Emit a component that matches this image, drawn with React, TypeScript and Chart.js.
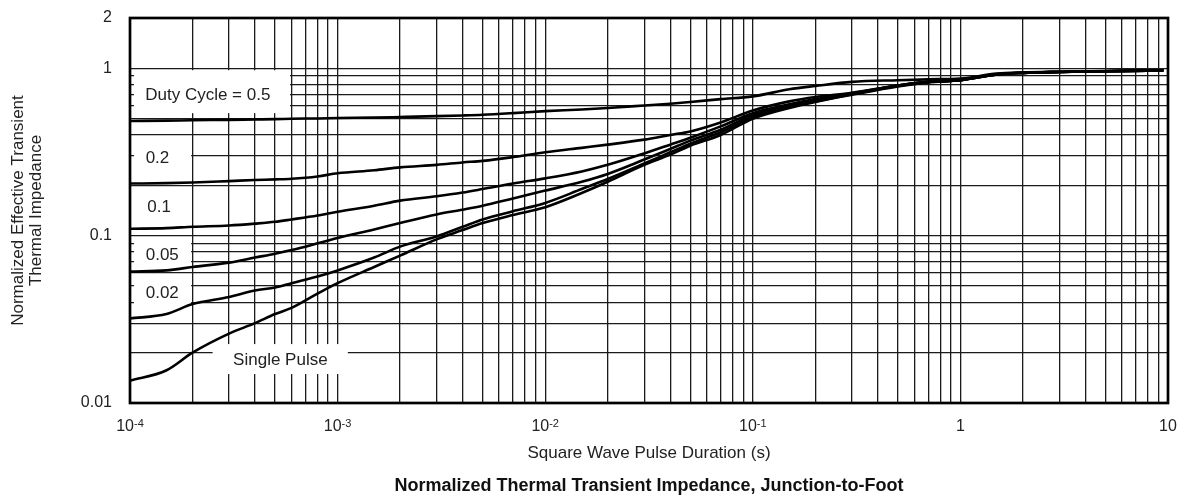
import React, { useEffect, useRef } from "react";
import { Chart, registerables } from "chart.js";

Chart.register(...registerables);

const FONT = '"Liberation Sans", Arial, Helvetica, sans-serif';

// Square wave pulse duration (s) at which the curves were read
const pulseDuration = [1e-4, 1.5e-4, 2e-4, 3e-4, 4e-4, 5e-4, 6e-4, 8e-4, 1e-3, 1.5e-3, 2e-3, 3e-3, 4e-3, 5e-3, 7e-3, 1e-2, 1.5e-2, 2e-2, 3e-2, 4e-2, 5e-2, 7e-2, 0.1, 0.15, 0.2, 0.3, 0.5, 0.7, 1, 1.5, 2, 3, 5, 9.5];

// Normalized effective transient thermal impedance per duty cycle
const duty05 = [0.485, 0.487, 0.49, 0.492, 0.495, 0.497, 0.5, 0.502, 0.505, 0.508, 0.512, 0.518, 0.523, 0.528, 0.54, 0.555, 0.568, 0.58, 0.6, 0.615, 0.63, 0.655, 0.68, 0.75, 0.785, 0.83, 0.85, 0.86, 0.87, 0.93, 0.945, 0.955, 0.965, 0.975];
const duty02 = [0.205, 0.206, 0.208, 0.212, 0.215, 0.217, 0.219, 0.226, 0.236, 0.246, 0.256, 0.265, 0.274, 0.28, 0.295, 0.315, 0.335, 0.35, 0.375, 0.4, 0.42, 0.475, 0.56, 0.635, 0.675, 0.715, 0.79, 0.83, 0.855, 0.925, 0.94, 0.952, 0.962, 0.973];
const duty01 = [0.11, 0.111, 0.113, 0.115, 0.118, 0.121, 0.125, 0.132, 0.139, 0.151, 0.162, 0.172, 0.181, 0.19, 0.205, 0.22, 0.242, 0.265, 0.31, 0.35, 0.385, 0.45, 0.54, 0.61, 0.655, 0.71, 0.79, 0.83, 0.85, 0.92, 0.94, 0.952, 0.962, 0.973];
const duty005 = [0.061, 0.062, 0.065, 0.069, 0.074, 0.078, 0.082, 0.09, 0.097, 0.109, 0.119, 0.134, 0.143, 0.151, 0.167, 0.186, 0.21, 0.234, 0.285, 0.33, 0.37, 0.43, 0.525, 0.6, 0.645, 0.705, 0.79, 0.83, 0.85, 0.92, 0.94, 0.952, 0.962, 0.973];
const duty002 = [0.032, 0.034, 0.039, 0.043, 0.047, 0.049, 0.052, 0.057, 0.062, 0.074, 0.086, 0.099, 0.113, 0.125, 0.14, 0.157, 0.19, 0.218, 0.27, 0.315, 0.355, 0.415, 0.51, 0.59, 0.635, 0.7, 0.785, 0.83, 0.85, 0.92, 0.94, 0.952, 0.962, 0.973];
const singlePulse = [0.0136, 0.0157, 0.02, 0.026, 0.03, 0.034, 0.037, 0.045, 0.052, 0.065, 0.076, 0.095, 0.108, 0.119, 0.133, 0.148, 0.18, 0.21, 0.265, 0.305, 0.345, 0.4, 0.5, 0.58, 0.63, 0.695, 0.78, 0.825, 0.85, 0.92, 0.94, 0.952, 0.962, 0.973];

const seriesNames = ["Duty Cycle = 0.5", "0.2", "0.1", "0.05", "0.02", "Single Pulse"];

// Axis ticks / grid
const xGridDecades = [1e-4, 1e-3, 1e-2, 1e-1, 1];
const yGridDecades = [0.01, 0.1, 1];
const gridMantissas = [1, 2, 3, 4, 5, 6, 7, 8, 9];
const xTickValues = [1e-4, 1e-3, 1e-2, 1e-1, 1, 10];
const xTickBase = ["10", "10", "10", "10", "1", "10"];
const xTickExp = ["-4", "-3", "-2", "-1", "", ""];
const yTickValues = [0.01, 0.1, 1, 2];
const yTickLabels = ["0.01", "0.1", "1", "2"];

// In-plot curve labels (data coordinates) and their white backing boxes
const curveLabelX = [2.37e-4, 1.356e-4, 1.38e-4, 1.43e-4, 1.43e-4, 5.3e-4];
const curveLabelY = [0.689, 0.291, 0.147, 0.076, 0.045, 0.0179];
const labelBoxX0 = [1.045e-4, 1.045e-4, 1.045e-4, 1.045e-4, 1.045e-4, 2.5e-4];
const labelBoxX1 = [5.9e-4, 1.97e-4, 1.97e-4, 1.97e-4, 1.97e-4, 1.12e-3];
const labelBoxYLow = [0.54, 0.235, 0.125, 0.065, 0.036, 0.0149];
const labelBoxYHigh = [0.975, 0.37, 0.18, 0.097, 0.054, 0.0225];

const xTitle = "Square Wave Pulse Duration (s)";
const yTitle = ["Normalized Effective Transient", "Thermal Impedance"];
const chartTitle = "Normalized Thermal Transient Impedance, Junction-to-Foot";

export default function App() {
  const ref = useRef<HTMLCanvasElement>(null);

  useEffect(() => {
    document.body.style.margin = "0";
    const series = [duty05, duty02, duty01, duty005, duty002, singlePulse];
    const xGrid: number[] = [];
    xGridDecades.forEach((d) => gridMantissas.forEach((m) => xGrid.push(d * m)));
    xGrid.push(10);
    const yGrid: number[] = [];
    yGridDecades.forEach((d) => gridMantissas.forEach((m) => { if (d * m <= 2.0001) yGrid.push(d * m); }));

    const decor = {
      id: "decor",
      beforeDatasetsDraw(chart: any) {
        const { ctx, scales } = chart;
        const x = scales.x, y = scales.y;
        ctx.save();
        ctx.fillStyle = "#ffffff";
        for (let i = 0; i < labelBoxX0.length; i++) {
          const l = x.getPixelForValue(labelBoxX0[i]);
          const r = x.getPixelForValue(labelBoxX1[i]);
          const t = y.getPixelForValue(labelBoxYHigh[i]);
          const b = y.getPixelForValue(labelBoxYLow[i]);
          ctx.fillRect(l, t, r - l, b - t);
        }
        ctx.fillStyle = "#222";
        ctx.font = `17px ${FONT}`;
        ctx.textAlign = "center";
        ctx.textBaseline = "middle";
        for (let i = 0; i < seriesNames.length; i++) {
          ctx.fillText(seriesNames[i], x.getPixelForValue(curveLabelX[i]), y.getPixelForValue(curveLabelY[i]));
        }
        ctx.restore();
      },
      afterDraw(chart: any) {
        const { ctx, chartArea, scales } = chart;
        const x = scales.x;
        ctx.save();
        // frame
        ctx.strokeStyle = "#000";
        ctx.lineWidth = 2.7;
        ctx.strokeRect(chartArea.left, chartArea.top, chartArea.right - chartArea.left, chartArea.bottom - chartArea.top);
        // x tick labels with superscripts
        ctx.fillStyle = "#222";
        ctx.textAlign = "left";
        ctx.textBaseline = "alphabetic";
        for (let i = 0; i < xTickValues.length; i++) {
          const px = x.getPixelForValue(xTickValues[i]);
          ctx.font = `16px ${FONT}`;
          const bw = ctx.measureText(xTickBase[i]).width;
          ctx.font = `11px ${FONT}`;
          const ew = xTickExp[i] ? ctx.measureText(xTickExp[i]).width : 0;
          const sx = px - (bw + ew) / 2;
          ctx.font = `16px ${FONT}`;
          ctx.fillText(xTickBase[i], sx, chartArea.bottom + 28);
          if (xTickExp[i]) {
            ctx.font = `11px ${FONT}`;
            ctx.fillText(xTickExp[i], sx + bw, chartArea.bottom + 23.5);
          }
        }
        // axis titles
        const cx = (chartArea.left + chartArea.right) / 2;
        const cy = (chartArea.top + chartArea.bottom) / 2;
        ctx.textAlign = "center";
        ctx.textBaseline = "middle";
        ctx.font = `17px ${FONT}`;
        ctx.fillText(xTitle, cx, chartArea.bottom + 50);
        ctx.font = `bold 18px ${FONT}`;
        ctx.fillStyle = "#111";
        ctx.fillText(chartTitle, cx, chartArea.bottom + 83);
        ctx.fillStyle = "#222";
        ctx.font = `17px ${FONT}`;
        yTitle.forEach((line, i) => {
          ctx.save();
          ctx.translate(18 + i * 18, cy);
          ctx.rotate(-Math.PI / 2);
          ctx.fillText(line, 0, 0);
          ctx.restore();
        });
        ctx.restore();
      },
    };

    const chart = new Chart(ref.current as HTMLCanvasElement, {
      type: "line",
      data: {
        datasets: series.map((vals, i) => ({
          label: seriesNames[i],
          data: pulseDuration.map((t, j) => ({ x: t, y: vals[j] })),
          borderColor: "#000",
          borderWidth: 2.6,
          pointRadius: 0,
          fill: false,
          cubicInterpolationMode: "monotone" as const,
        })),
      },
      options: {
        animation: false,
        responsive: false,
        devicePixelRatio: 1,
        layout: { padding: { top: 18, right: 20, left: 0, bottom: 0 } },
        plugins: { legend: { display: false }, tooltip: { enabled: false } },
        scales: {
          x: {
            type: "logarithmic",
            min: 1e-4,
            max: 10,
            afterBuildTicks: (s: any) => { s.ticks = xGrid.map((v) => ({ value: v })); },
            afterFit: (s: any) => { s.height = 93; },
            ticks: { display: false },
            grid: { color: "#1a1a1a", lineWidth: 1.3, drawTicks: false },
            border: { display: false },
          },
          y: {
            type: "logarithmic",
            min: 0.01,
            max: 2,
            afterBuildTicks: (s: any) => { s.ticks = yGrid.map((v) => ({ value: v })); },
            afterFit: (s: any) => { s.width = 130; },
            ticks: {
              autoSkip: false,
              padding: 0,
              color: "#222",
              font: { family: FONT, size: 16 },
              callback: (v: any) => {
                const i = yTickValues.findIndex((t) => Math.abs(t - Number(v)) / t < 1e-6);
                return i >= 0 ? yTickLabels[i] : "";
              },
            },
            grid: { color: "#1a1a1a", lineWidth: 1.3, drawTicks: true, tickLength: 18, tickColor: "rgba(0,0,0,0)" },
            border: { display: false },
          },
        },
      },
      plugins: [decor],
    });
    return () => chart.destroy();
  }, []);

  return (
    <div style={{ position: "absolute", left: 0, top: 0, width: 1188, height: 496, background: "#fff" }}>
      <canvas ref={ref} width={1188} height={496} />
    </div>
  );
}
